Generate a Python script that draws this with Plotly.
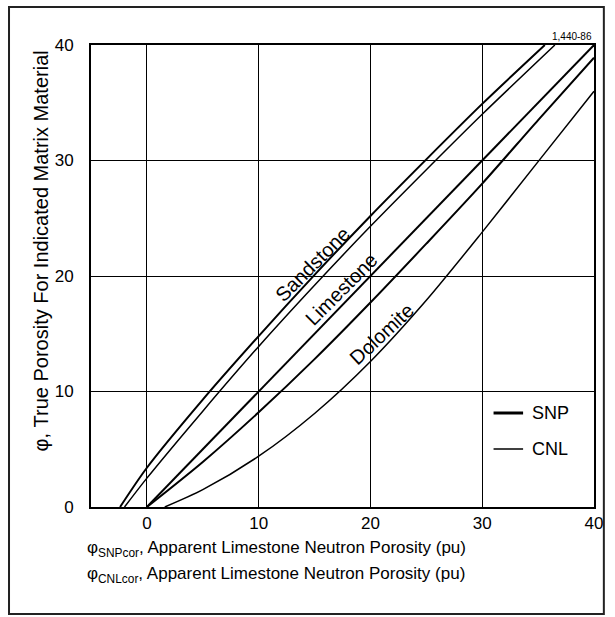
import plotly.graph_objects as go

# ---- data ----
ss_snp_x = [-2.4, 0, 5, 10, 15, 20, 25, 30, 35.6]
ss_snp_y = [0, 3.4, 9.3, 14.8, 20.1, 25.2, 30.1, 34.9, 40]

ss_cnl_x = [-2.0, 0, 5, 10, 15, 20, 25, 30, 36.5]
ss_cnl_y = [0, 2.5, 8.3, 13.9, 19.2, 24.3, 29.2, 34.0, 40]

ls_x = [0, 40]
ls_y = [0, 40]

dol_snp_x = [0, 5, 10, 15, 20, 25, 30, 35, 40]
dol_snp_y = [0, 3.9, 8.2, 12.8, 17.7, 22.8, 28.0, 33.5, 38.9]

dol_cnl_x = [1.6, 5, 10, 15, 20, 25, 30, 35, 40]
dol_cnl_y = [0, 1.5, 4.4, 8.1, 12.6, 17.9, 23.8, 29.9, 36.0]

x_ticks = [0, 10, 20, 30, 40]
y_ticks = [0, 10, 20, 30, 40]

FONT = "Liberation Sans, Arial, Helvetica, sans-serif"

fig = go.Figure()

def add_curve(x, y, w):
    fig.add_trace(go.Scatter(x=x, y=y, mode="lines",
                             line=dict(color="black", width=w, shape="spline", smoothing=0.8),
                             showlegend=False, hoverinfo="skip"))

add_curve(ss_snp_x, ss_snp_y, 2)
add_curve(ss_cnl_x, ss_cnl_y, 1.5)
add_curve(ls_x, ls_y, 2)
add_curve(dol_snp_x, dol_snp_y, 2)
add_curve(dol_cnl_x, dol_cnl_y, 1.5)

# geometry helpers (plot area: x 91..602 px, y 45..507 px)
L, R, T, B = 91.25, 602.0, 45.0, 507.0
def px(xp):
    return (xp - L) / (R - L)
def py(yp):
    return (B - yp) / (B - T)

annotations = [
    dict(x=14.85, y=21.0, xref="x", yref="y", text="Sandstone", textangle=-45,
         showarrow=False, font=dict(size=20, color="black", family=FONT)),
    dict(x=17.4, y=18.9, xref="x", yref="y", text="Limestone", textangle=-45,
         showarrow=False, font=dict(size=20, color="black", family=FONT)),
    dict(x=21.0, y=15.0, xref="x", yref="y", text="Dolomite", textangle=-43,
         showarrow=False, font=dict(size=20, color="black", family=FONT)),
    dict(x=px(602), y=py(36), xref="paper", yref="paper", text="1,440-86",
         xanchor="right", yanchor="middle", showarrow=False,
         font=dict(size=10, color="black", family=FONT)),
    dict(x=px(85), y=py(549), xref="paper", yref="paper",
         text="φ<sub>SNPcor</sub>, Apparent Limestone Neutron Porosity (pu)",
         xanchor="left", yanchor="middle", showarrow=False,
         font=dict(size=17, color="black", family=FONT)),
    dict(x=px(85), y=py(575), xref="paper", yref="paper",
         text="φ<sub>CNLcor</sub>, Apparent Limestone Neutron Porosity (pu)",
         xanchor="left", yanchor="middle", showarrow=False,
         font=dict(size=17, color="black", family=FONT)),
    dict(x=px(40), y=py(251), xref="paper", yref="paper",
         text="φ, True Porosity For Indicated Matrix Material", textangle=-90,
         xanchor="center", yanchor="middle", showarrow=False,
         font=dict(size=20, color="black", family=FONT)),
    dict(x=px(537), y=py(413), xref="paper", yref="paper", text="SNP",
         xanchor="left", yanchor="middle", showarrow=False,
         font=dict(size=18, color="black", family=FONT)),
    dict(x=px(537), y=py(449), xref="paper", yref="paper", text="CNL",
         xanchor="left", yanchor="middle", showarrow=False,
         font=dict(size=18, color="black", family=FONT)),
]

shapes = [
    # outer border
    dict(type="rect", xref="paper", yref="paper", x0=px(8), x1=px(612), y0=py(7), y1=py(614),
         line=dict(color="#222", width=2)),
    # legend samples
    dict(type="line", xref="paper", yref="paper", x0=px(500), x1=px(530), y0=py(413), y1=py(413),
         line=dict(color="black", width=3)),
    dict(type="line", xref="paper", yref="paper", x0=px(500), x1=px(530), y0=py(449), y1=py(449),
         line=dict(color="black", width=1.5)),
]

fig.update_layout(
    width=615, height=617,
    margin=dict(l=91, r=13, t=45, b=110),
    plot_bgcolor="white", paper_bgcolor="white",
    font=dict(family=FONT, color="black", size=17),
    showlegend=False,
    annotations=annotations,
    shapes=shapes,
    xaxis=dict(range=[-5, 40], tickvals=x_ticks, ticktext=[str(v) for v in x_ticks],
               showgrid=True, gridcolor="black", gridwidth=1, zeroline=False,
               showline=True, linecolor="black", linewidth=2, mirror=True,
               ticks="", ticklabelstandoff=0, tickfont=dict(size=17)),
    yaxis=dict(range=[0, 40], tickvals=y_ticks, ticktext=[str(v) for v in y_ticks],
               showgrid=True, gridcolor="black", gridwidth=1, zeroline=False,
               showline=True, linecolor="black", linewidth=2, mirror=True,
               ticks="", ticklabelstandoff=12, tickfont=dict(size=17)),
)

fig.write_html("out.html")
